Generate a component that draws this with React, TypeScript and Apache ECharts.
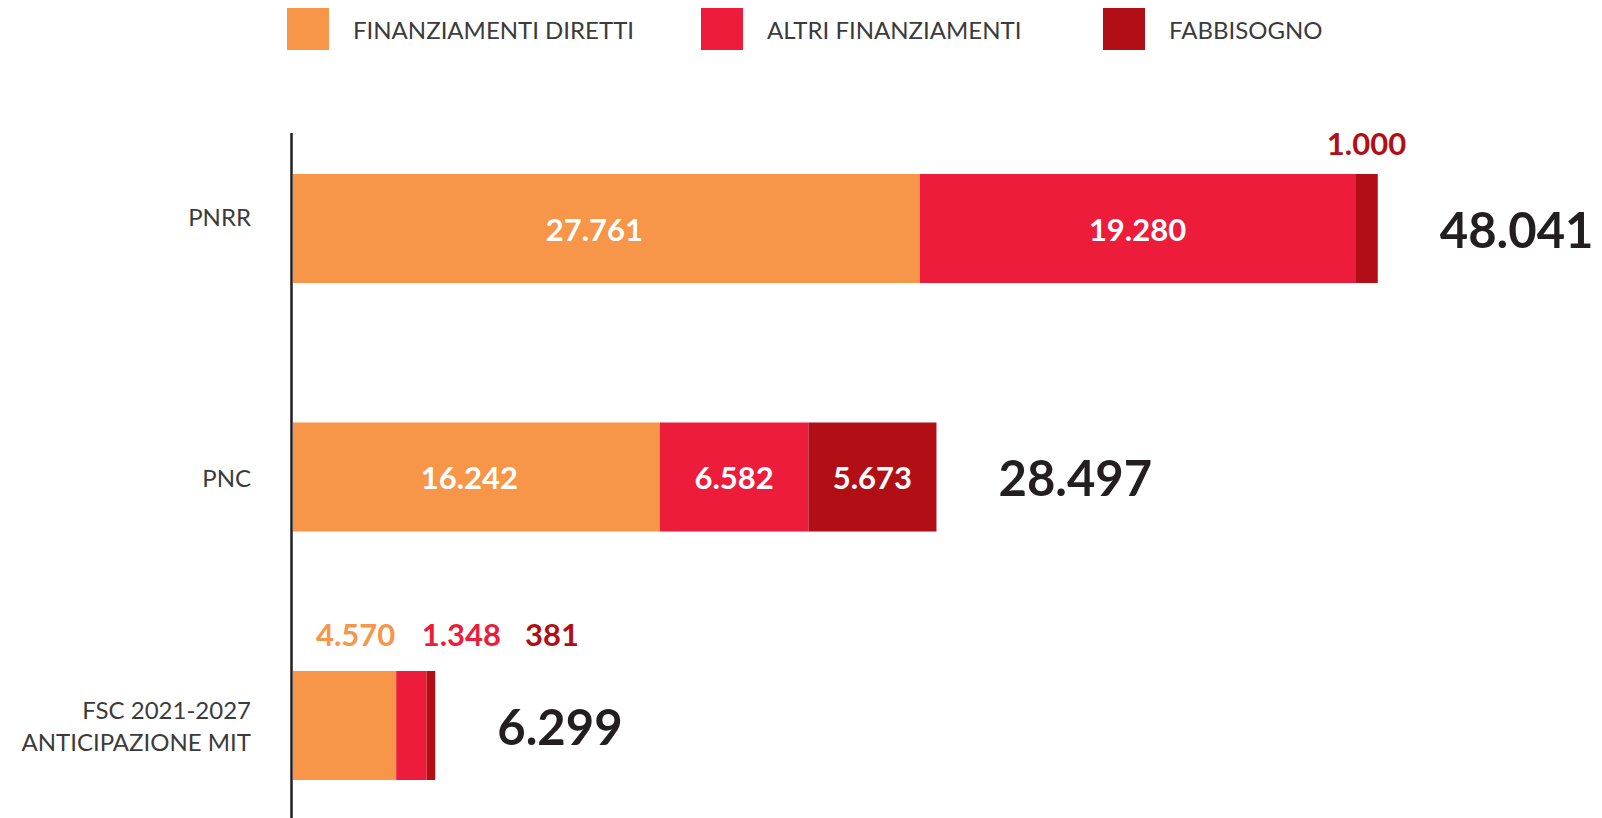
import React, { useEffect, useRef } from "react";
import * as echarts from "echarts";

const categories = ["PNRR", "PNC", "FSC 2021-2027\nANTICIPAZIONE MIT"];
const seriesNames = ["FINANZIAMENTI DIRETTI", "ALTRI FINANZIAMENTI", "FABBISOGNO"];
const diretti = [27761, 16242, 4570];
const altri = [19280, 6582, 1348];
const fabbisogno = [1000, 5673, 381];

const COLORS = ["#F79548", "#ED1C3B", "#B10E16"];
const FONT = "Lato";
const AXIS_TEXT = "#3b3b3b";
const DARK = "#231F20";

const fmt = (v: number) => String(v).replace(/\B(?=(\d{3})+(?!\d))/g, ".");

export default function App() {
  const ref = useRef<HTMLDivElement>(null);

  useEffect(() => {
    if (!ref.current) return;
    const chart = echarts.init(ref.current, null, { renderer: "svg" });

    const values = [diretti, altri, fabbisogno];
    const totals = categories.map((_, i) => diretti[i] + altri[i] + fabbisogno[i]);
    const labelPos = [
      ["inside", "inside", "top"],
      ["inside", "inside", "top"],
      ["top", "inside", "top"],
    ];
    const offsetX = [
      [-12, -7, 11],
      [0, 0, 50],
      [0, 0, 121],
    ];
    const topDistance = [16, 16, 22];

    const barSeries = values.map((arr, s) => ({
      name: seriesNames[s],
      type: "bar",
      stack: "tot",
      barWidth: 109,
      itemStyle: { color: COLORS[s] },
      label: {
        show: true,
        fontFamily: FONT,
        fontWeight: "bold",
        fontSize: 31,
        formatter: (p: any) => fmt(p.value),
      },
      data: arr.map((v, i) => ({
        value: v,
        label:
          labelPos[s][i] === "inside"
            ? { position: "inside", color: "#ffffff", offset: [offsetX[s][i], 0] }
            : {
                position: "top",
                color: COLORS[s],
                distance: topDistance[i],
                offset: [offsetX[s][i], 0],
              },
      })),
    }));

    const totalSeries = {
      name: "Totale",
      type: "bar",
      stack: "tot",
      barWidth: 109,
      itemStyle: { color: "transparent" },
      label: {
        show: true,
        position: "right",
        distance: 62,
        fontFamily: FONT,
        fontWeight: "bold",
        fontSize: 49,
        color: DARK,
        formatter: (p: any) => fmt(totals[p.dataIndex]),
      },
      data: categories.map(() => 0),
    };

    const legendBase = {
      orient: "horizontal",
      top: 8,
      padding: 0,
      icon: "rect",
      itemWidth: 42,
      itemHeight: 42,
      selectedMode: false,
      textStyle: {
        fontFamily: FONT,
        fontSize: 24,
        color: AXIS_TEXT,
        padding: [0, 0, 0, 19],
      },
    };

    chart.setOption({
      animation: false,
      backgroundColor: "#ffffff",
      legend: [
        { ...legendBase, left: 287, data: [seriesNames[0]] },
        { ...legendBase, left: 701, data: [seriesNames[1]] },
        { ...legendBase, left: 1103, data: [seriesNames[2]] },
      ],
      grid: { left: 293, top: 228.5, width: 1129, height: 497, containLabel: false },
      xAxis: {
        type: "value",
        min: 0,
        max: 50000,
        show: false,
        splitLine: { show: false },
      },
      yAxis: {
        type: "category",
        inverse: true,
        boundaryGap: false,
        data: categories,
        axisLine: { show: false },
        axisTick: { show: false },
        splitLine: { show: false },
        axisLabel: {
          margin: 42,
          fontFamily: FONT,
          fontSize: 24,
          lineHeight: 32,
          color: AXIS_TEXT,
          align: "right",
          formatter: (v: string, i: number) => (i === 0 ? `{lift|${v}}` : v),
          rich: {
            lift: {
              fontFamily: FONT,
              fontSize: 24,
              color: AXIS_TEXT,
              lineHeight: 32,
              padding: [0, 0, 24, 0],
            },
          },
        },
      },
      graphic: [
        {
          type: "line",
          shape: { x1: 291.5, y1: 133, x2: 291.5, y2: 818 },
          style: { stroke: DARK, lineWidth: 2.5 },
          z: 10,
        },
      ],
      series: [...barSeries, totalSeries],
    });

    return () => chart.dispose();
  }, []);

  return (
    <div
      ref={ref}
      style={{ position: "absolute", left: 0, top: 0, width: "1602px", height: "818px" }}
    />
  );
}
